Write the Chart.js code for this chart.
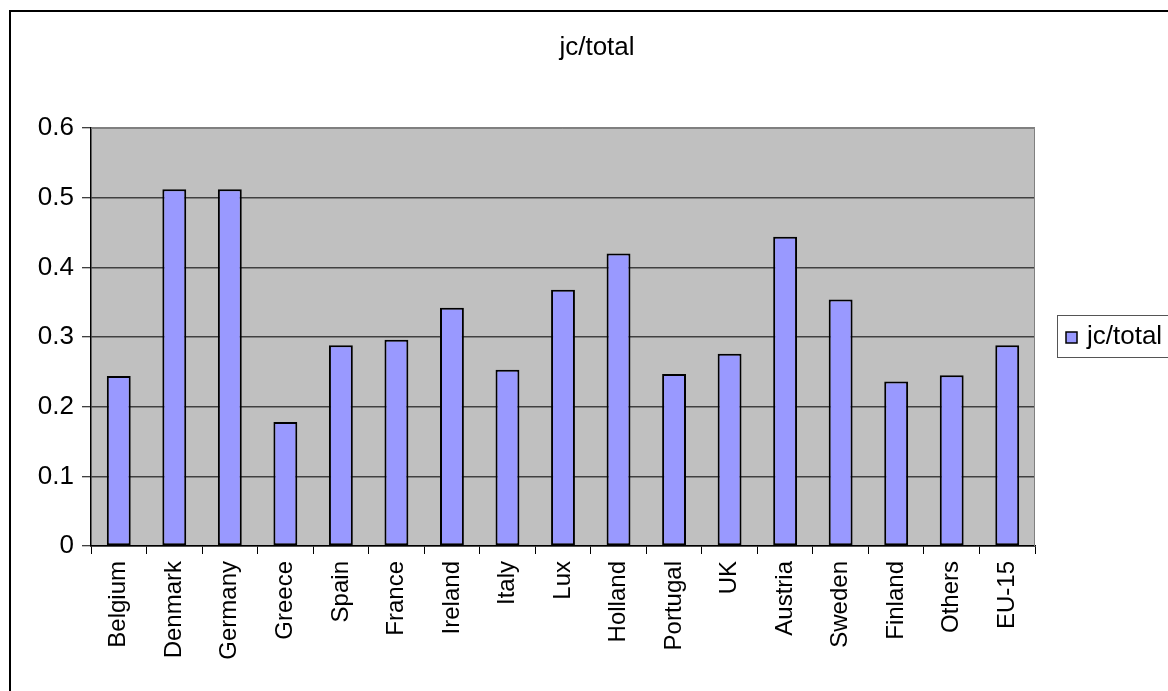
<!DOCTYPE html>
<html>
<head>
<meta charset="utf-8">
<script src="https://cdn.jsdelivr.net/npm/chart.js@4/dist/chart.umd.min.js"></script>
<style>
  html, body { margin: 0; padding: 0; background: #fff; overflow: hidden; width: 1168px; height: 691px; }
  #frame { position: absolute; left: 9px; top: 10px; width: 1200px; height: 720px; border: 2px solid #000; }
  #holder { position: absolute; left: 11px; top: 12px; width: 1170px; height: 690px; }
</style>
</head>
<body>
<div id="frame"></div>
<div id="holder"><canvas id="c" width="1170" height="690"></canvas></div>
<script>
// Ratio of jc to total, per country
const chartTitle = 'jc/total';
const seriesName = 'jc/total';
const categories = ['Belgium', 'Denmark', 'Germany', 'Greece', 'Spain', 'France', 'Ireland', 'Italy', 'Lux',
  'Holland', 'Portugal', 'UK', 'Austria', 'Sweden', 'Finland', 'Others', 'EU-15'];
const values = [0.244, 0.512, 0.512, 0.178, 0.288, 0.296, 0.342, 0.253, 0.368,
  0.420, 0.247, 0.276, 0.444, 0.354, 0.236, 0.245, 0.288];
const yTicks = [0, 0.1, 0.2, 0.3, 0.4, 0.5, 0.6];

const FONT = 'Liberation Sans, Arial, sans-serif';
const BAR_FILL = '#9999FF';

// grey plot background and its thin grey top/right edge
const plotArea = {
  id: 'plotArea',
  beforeDraw(chart) {
    const { ctx, chartArea: a } = chart;
    ctx.save();
    ctx.fillStyle = '#C0C0C0';
    ctx.fillRect(a.left, a.top, a.right - a.left, a.bottom - a.top);
    ctx.restore();
  },
  beforeDatasetsDraw(chart) {
    const { ctx, chartArea: a } = chart;
    ctx.save();
    ctx.strokeStyle = '#808080';
    ctx.lineWidth = 1;
    ctx.beginPath();
    ctx.moveTo(a.left, a.top + 0.5);
    ctx.lineTo(a.right - 0.5, a.top + 0.5);
    ctx.lineTo(a.right - 0.5, a.bottom);
    ctx.stroke();
    ctx.restore();
  }
};

// title centred over the whole chart, and the boxed legend on the right
const titleAndLegend = {
  id: 'titleAndLegend',
  afterDraw(chart) {
    const { ctx } = chart;
    const ds = chart.data.datasets[0];
    ctx.save();
    ctx.fillStyle = '#000';
    ctx.font = '26px ' + FONT;
    ctx.textBaseline = 'alphabetic';
    ctx.textAlign = 'center';
    ctx.fillText(chartTitle, 586, 42.5);

    ctx.strokeStyle = '#555';
    ctx.lineWidth = 1;
    ctx.strokeRect(1046.5, 303.5, 200, 42);
    ctx.fillStyle = ds.backgroundColor;
    ctx.fillRect(1055, 320, 11, 11);
    ctx.strokeStyle = '#000';
    ctx.lineWidth = 1.5;
    ctx.strokeRect(1055, 320, 11, 11);
    ctx.fillStyle = '#000';
    ctx.font = '26px ' + FONT;
    ctx.textAlign = 'left';
    ctx.fillText(ds.label, 1076, 332);
    ctx.restore();
  }
};

new Chart(document.getElementById('c'), {
  type: 'bar',
  data: {
    labels: categories,
    datasets: [{
      label: seriesName,
      data: values,
      backgroundColor: BAR_FILL,
      borderColor: '#000',
      borderWidth: 2,
      borderSkipped: false,
      barPercentage: 0.43,
      categoryPercentage: 1.0
    }]
  },
  options: {
    responsive: false,
    animation: false,
    devicePixelRatio: 1,
    layout: { padding: { left: 0, right: 146, top: 116, bottom: 0 } },
    plugins: {
      legend: { display: false },
      tooltip: { enabled: false },
      title: { display: false }
    },
    scales: {
      x: {
        offset: true,
        afterFit(scale) { scale.height = 156; },
        grid: {
          offset: true,
          drawOnChartArea: false,
          drawTicks: true,
          tickLength: 8,
          tickColor: '#000',
          tickWidth: 1
        },
        border: { display: true, color: '#000', width: 1.5 },
        ticks: {
          autoSkip: false,
          minRotation: 90,
          maxRotation: 90,
          padding: 7,
          color: '#000',
          font: { family: FONT, size: 24 }
        }
      },
      y: {
        min: 0,
        max: 0.6,
        afterFit(scale) { scale.width = 80; },
        afterBuildTicks(scale) { scale.ticks = yTicks.map(v => ({ value: v })); },
        grid: {
          color: ctx => (ctx.tick && ctx.tick.value >= 0.6 ? '#808080' : '#404040'),
          lineWidth: 1.5,
          drawTicks: true,
          tickLength: 9,
          tickColor: '#000',
          tickWidth: 1
        },
        border: { display: true, color: '#000', width: 1.5 },
        ticks: {
          padding: 8,
          color: '#000',
          font: { family: FONT, size: 26 },
          callback: v => String(Math.round(v * 10) / 10)
        }
      }
    }
  },
  plugins: [plotArea, titleAndLegend]
});
</script>
</body>
</html>
